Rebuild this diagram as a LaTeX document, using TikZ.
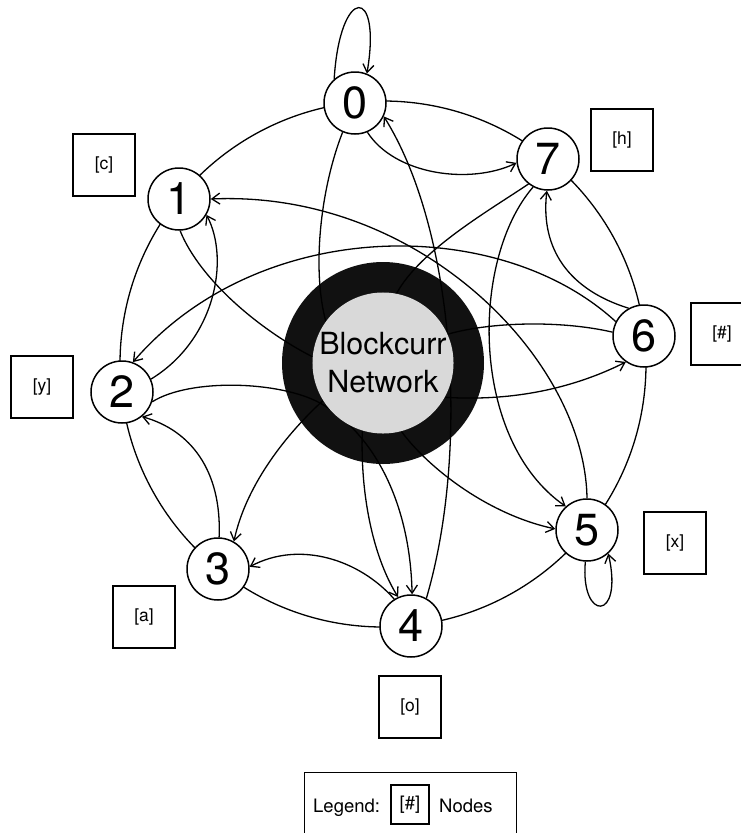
\documentclass[tikz,border=0pt]{standalone}
\usepackage{fontspec}
\setmainfont{TeX Gyre Heros}
\usetikzlibrary{arrows.meta}
\definecolor{ringc}{HTML}{111111}
\definecolor{innerc}{HTML}{D9D9D9}
\pgfdeclarelayer{bg}
\pgfdeclarelayer{edges}
\pgfsetlayers{bg,edges,main}
\begin{document}
\begin{tikzpicture}[x=1pt,y=-1pt,
  num/.style={circle,draw,line width=1.5pt,fill=white,minimum size=62pt,inner sep=0pt,font=\fontsize{45}{50}\selectfont},
  lbl/.style={draw,line width=1.2pt,minimum width=62pt,minimum height=62pt,inner sep=0pt,font=\fontsize{17.5}{20}\selectfont},
  edge/.style={line width=1.3pt},
  arr/.style={edge,-{Straight Barb[length=8pt,width=11pt]}},
  legfont/.style={font=\fontsize{18.5}{21}\selectfont}]
\useasboundingbox (0,0) rectangle (741,833);
\clip (0,0) rectangle (741,833);

% nodes
\node[num] (n0) at (355,103) {0};
\node[num] (n1) at (179,199) {1};
\node[num] (n2) at (122,392) {2};
\node[num] (n3) at (218,569) {3};
\node[num] (n4) at (411,626) {4};
\node[num] (n5) at (587,530) {5};
\node[num] (n6) at (644,336) {6};
\node[num] (n7) at (548,159) {7};
\node[circle,fill=innerc,minimum size=140pt,inner sep=0pt,align=center,
      font=\fontsize{30.5}{38}\selectfont] (C) at (383,363) {Blockcurr\\Network};

% label boxes
\node[lbl] (bc) at (104,165) {[c]};
\node[lbl] (bh) at (622,140) {[h]};
\node[lbl] (bs) at (722,334) {[\#]};
\node[lbl] (by) at (42,387) {[y]};
\node[lbl] (ba) at (144,617) {[a]};
\node[lbl] (bx) at (675,543) {[x]};
\node[lbl] (bo) at (410,707) {[o]};

% legend
\node[draw,line width=1.2pt,minimum width=212pt,minimum height=80pt,inner sep=0pt,anchor=north west] (leg) at (304,772) {};
\node[draw,line width=1.2pt,minimum width=38pt,minimum height=39pt,inner sep=0pt,legfont] (lgb) at (410,804.5) {[\#]};
\node[legfont,anchor=base west,inner sep=0pt] (legt) at (313,812.5) {Legend:};
\node[legfont,anchor=base west,inner sep=0pt] (legn) at (439,812.5) {Nodes};

\begin{pgfonlayer}{bg}
  \draw[edge] (383,364) circle[radius=263pt];
  \fill[ringc] (C.center) circle[radius=101pt];
\end{pgfonlayer}

\begin{pgfonlayer}{edges}
  % self loops
  \draw[arr] (n0.131) .. controls (340,-15) and (382,-15) .. (n0.68);
  \draw[arr] (n5.-93) .. controls (580,622) and (624,622) .. (n5.-48);
  % node to node
  \draw[arr] (n0.-67) .. controls (395,175) and (470,185) .. (n7.-173);
  \draw[arr] (n6.119) .. controls (570,290) and (540,250) .. (n7.-92);
  \draw[arr] (n6.153) .. controls (500,215) and (260,215) .. (n2.70);
  \draw[arr] (n2.24) .. controls (215,340) and (230,260) .. (n1.-30);
  \draw[arr] (n3.88) .. controls (222,470) and (190,430) .. (n2.-51);
  \draw[arr] (n4.122) .. controls (360,560) and (300,540) .. (n3.4);
  \draw[arr] (n2.-18) .. controls (190,378) and (280,381) .. (320,403)
             .. controls (372,432) and (410,500) .. (n4.88);
  \draw[arr] (n4.61) .. controls (470,450) and (455,230) .. (n0.-25);
  \draw[arr] (n7.-118) .. controls (470,260) and (470,440) .. (n5.132);
  \draw[arr] (n5.90) .. controls (585,360) and (420,190) .. (n1.0);
  % center edges
  \draw[arr] (C.212) .. controls (280,440) and (245,490) .. (n3.60);
  \draw[arr] (C.-107) .. controls (360,500) and (375,560) .. (n4.114);
  \draw[arr] (C.-75) .. controls (430,470) and (490,515) .. (n5.178);
  \draw[arr] (C.-29) .. controls (520,402) and (580,385) .. (n6.-125);
  \draw[edge] (n1.-88) .. controls (200,280) and (260,330) .. (C.175);
  \draw[edge] (n0.-113) .. controls (320,190) and (312,270) .. (C.144);
  \draw[edge] (n7.-128) .. controls (490,210) and (420,250) .. (C.79);
  \draw[edge] (n6.173) .. controls (560,320) and (490,322) .. (C.24);
\end{pgfonlayer}
\end{tikzpicture}
\end{document}
